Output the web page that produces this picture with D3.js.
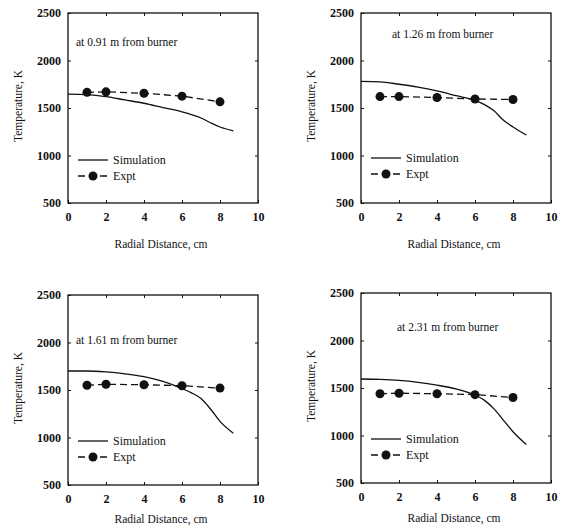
<!DOCTYPE html>
<html>
<head>
<meta charset="utf-8">
<script src="https://cdn.jsdelivr.net/npm/d3@7"></script>
<style>
  body { margin: 0; background: #fff; }
  svg text { font-family: "Liberation Serif", "DejaVu Serif", serif; fill: #111; }
  .tick text { font-size: 12px; font-weight: bold; }
</style>
</head>
<body>
<div id="chart"></div>
<script>
// panel labels
var panelLabels = ["at 0.91 m from burner", "at 1.26 m from burner",
                   "at 1.61 m from burner", "at 2.31 m from burner"];

var xTicks = [0, 2, 4, 6, 8, 10];
var yTicks = [500, 1000, 1500, 2000, 2500];

// experiment points (radial distance, cm)
var exptX = [1, 2, 4, 6, 8];
var expt1 = [1665, 1670, 1655, 1625, 1565];
var expt2 = [1620, 1620, 1610, 1595, 1590];
var expt3 = [1550, 1560, 1555, 1545, 1520];
var expt4 = [1440, 1445, 1440, 1430, 1400];

// simulation curves
var simX = [0, 1, 2, 3, 4, 5, 6, 6.5, 7, 7.5, 8, 8.7];
var sim1 = [1645, 1640, 1620, 1585, 1550, 1505, 1460, 1430, 1395, 1345, 1300, 1260];
var sim2 = [1780, 1775, 1750, 1720, 1680, 1630, 1580, 1535, 1470, 1370, 1300, 1215];
var sim3 = [1700, 1700, 1690, 1670, 1640, 1590, 1515, 1470, 1410, 1300, 1170, 1045];
var sim4 = [1595, 1590, 1580, 1560, 1530, 1490, 1425, 1370, 1280, 1160, 1040, 905];

var expts = [expt1, expt2, expt3, expt4];
var sims = [sim1, sim2, sim3, sim4];

var svgWidth = 566, svgHeight = 530;
var svg = d3.select("#chart").append("svg")
  .attr("width", svgWidth)
  .attr("height", svgHeight);

// panel frames: left, top, label position, legend top, x-title offset
var panels = [
  { left: 68, top: 13, labX: 8, labY: 33, legY: 147, xt: 45 },
  { left: 361, top: 13, labX: 31, labY: 25, legY: 145, xt: 45 },
  { left: 68, top: 295, labX: 8, labY: 49, legY: 146, xt: 38 },
  { left: 361, top: 293, labX: 36, labY: 38, legY: 146, xt: 39 }
];
var width = 190, height = 190;

var x = d3.scaleLinear().domain([0, 10]).range([0, width]);
var y = d3.scaleLinear().domain([500, 2500]).range([height, 0]);

panels.forEach(function(p, i) {
  var g = svg.append("g").attr("transform", `translate(${p.left}, ${p.top})`);

  // frame
  g.append("rect")
    .attr("width", width).attr("height", height)
    .attr("fill", "none").attr("stroke", "#111").attr("stroke-width", 1.3);

  // axes with small inward ticks
  g.append("g")
    .attr("transform", `translate(0, ${height})`)
    .call(d3.axisBottom(x).tickValues(xTicks).tickSize(-3).tickPadding(9).tickFormat(d3.format("d")))
    .call(a => a.select(".domain").remove());
  g.append("g")
    .call(d3.axisLeft(y).tickValues(yTicks).tickSize(-3).tickPadding(7).tickFormat(d3.format("d")))
    .call(a => a.select(".domain").remove());
  g.append("g")
    .attr("transform", `translate(${width}, 0)`)
    .call(d3.axisRight(y).tickValues(yTicks.slice(1, 4)).tickSize(-3).tickFormat(""))
    .call(a => a.select(".domain").remove());
  g.append("g")
    .call(d3.axisTop(x).tickValues([2, 4, 6, 8]).tickSize(-3).tickFormat(""))
    .call(a => a.select(".domain").remove());
  g.selectAll(".tick line").attr("stroke", "#111");

  // axis titles
  g.append("text")
    .attr("transform", "rotate(-90)")
    .attr("x", -height / 2 + 2)
    .attr("y", -46)
    .attr("text-anchor", "middle")
    .attr("font-size", "11.5px")
    .text("Temperature, K");
  g.append("text")
    .attr("x", width / 2 - 2)
    .attr("y", height + p.xt)
    .attr("text-anchor", "middle")
    .attr("font-size", "11.5px")
    .text("Radial Distance, cm");

  // panel label
  g.append("text")
    .attr("x", p.labX).attr("y", p.labY)
    .attr("font-size", "11.5px")
    .text(panelLabels[i]);

  // simulation line
  var simData = simX.map((d, k) => [d, sims[i][k]]);
  g.append("path")
    .datum(simData)
    .attr("fill", "none")
    .attr("stroke", "#111")
    .attr("stroke-width", 1.3)
    .attr("d", d3.line().x(d => x(d[0])).y(d => y(d[1])).curve(d3.curveMonotoneX));

  // expt dashed line + circles
  var exData = exptX.map((d, k) => [d, expts[i][k]]);
  g.append("path")
    .datum(exData)
    .attr("fill", "none")
    .attr("stroke", "#111")
    .attr("stroke-width", 1.3)
    .attr("stroke-dasharray", "7,4")
    .attr("d", d3.line().x(d => x(d[0])).y(d => y(d[1])));
  g.selectAll("circle.pt")
    .data(exData)
    .enter()
    .append("circle")
    .attr("class", "pt")
    .attr("cx", d => x(d[0]))
    .attr("cy", d => y(d[1]))
    .attr("r", 4.5)
    .attr("fill", "#111");

  // legend
  var lg = g.append("g").attr("transform", `translate(10, ${p.legY})`);
  lg.append("line")
    .attr("x1", 0).attr("x2", 30).attr("y1", 0).attr("y2", 0)
    .attr("stroke", "#111").attr("stroke-width", 1.3);
  lg.append("text").attr("x", 35).attr("y", 4).attr("font-size", "12px").text("Simulation");
  lg.append("line")
    .attr("x1", 0).attr("x2", 30).attr("y1", 16).attr("y2", 16)
    .attr("stroke", "#111").attr("stroke-width", 1.3)
    .attr("stroke-dasharray", "7,4");
  lg.append("circle").attr("cx", 15).attr("cy", 16).attr("r", 4.5).attr("fill", "#111");
  lg.append("text").attr("x", 35).attr("y", 20).attr("font-size", "12px").text("Expt");
});
</script>
</body>
</html>
